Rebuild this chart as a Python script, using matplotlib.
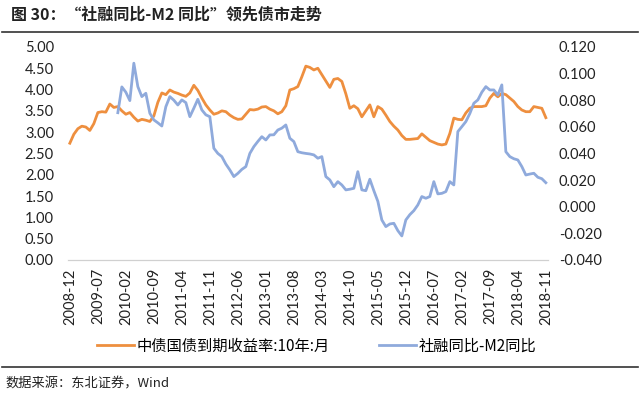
import matplotlib
matplotlib.use("Agg")
import matplotlib.pyplot as plt
import numpy as np
import pandas as pd

plt.rcParams["font.family"] = ["Noto Sans CJK SC", "DejaVu Sans"]

# monthly, 2008-12 .. 2018-11
months = pd.period_range("2008-12", "2018-11", freq="M").strftime("%Y-%m").tolist()

# 中债国债到期收益率:10年 (left axis, %)
bond_yield = [
    2.74, 2.95, 3.08, 3.14, 3.12, 3.04, 3.20, 3.46, 3.48, 3.47, 3.66, 3.58,
    3.60, 3.50, 3.42, 3.46, 3.35, 3.26, 3.30, 3.28, 3.25, 3.38, 3.70, 3.92,
    3.88, 3.99, 3.94, 3.91, 3.87, 3.84, 3.92, 4.10, 3.98, 3.80, 3.64, 3.52,
    3.42, 3.45, 3.50, 3.48, 3.40, 3.34, 3.30, 3.31, 3.42, 3.53, 3.52, 3.54,
    3.59, 3.60, 3.54, 3.50, 3.43, 3.48, 3.62, 3.99, 4.02, 4.07, 4.30, 4.55,
    4.52, 4.46, 4.50, 4.35, 4.20, 4.05, 4.24, 4.26, 4.19, 3.90, 3.56, 3.62,
    3.55, 3.36, 3.50, 3.64, 3.36, 3.60, 3.54, 3.40, 3.25, 3.14, 3.05, 2.92,
    2.83, 2.83, 2.84, 2.85, 2.96, 2.88, 2.80, 2.76, 2.72, 2.70, 2.72, 2.97,
    3.33, 3.30, 3.29, 3.45, 3.56, 3.60, 3.60, 3.60, 3.62, 3.80, 3.91, 3.83,
    3.91, 3.88, 3.80, 3.72, 3.60, 3.52, 3.48, 3.48, 3.60, 3.58, 3.56, 3.34,
]

# 社融同比-M2同比 (right axis), starts 2009-12
tsf_m2 = [np.nan] * 12 + [
    0.0706, 0.0900, 0.0860, 0.0797, 0.1078, 0.0902, 0.0827, 0.0852, 0.0702, 0.0652, 0.0630, 0.0606,
    0.0751, 0.0827, 0.0800, 0.0764, 0.0802, 0.0782, 0.0676, 0.0740, 0.0807, 0.0727, 0.0690, 0.0676,
    0.0439, 0.0400, 0.0376, 0.0320, 0.0276, 0.0226, 0.0250, 0.0280, 0.0301, 0.0400, 0.0451, 0.0490,
    0.0526, 0.0501, 0.0539, 0.0540, 0.0576, 0.0590, 0.0614, 0.0514, 0.0489, 0.0413, 0.0405, 0.0400,
    0.0396, 0.0389, 0.0364, 0.0376, 0.0226, 0.0201, 0.0150, 0.0188, 0.0163, 0.0126, 0.0131, 0.0138,
    0.0263, 0.0126, 0.0120, 0.0206, 0.0120, 0.0040, -0.0100, -0.0150, -0.0130, -0.0125, -0.0180, -0.0220,
    -0.0100, -0.0060, -0.0030, 0.0013, 0.0076, 0.0063, 0.0076, 0.0188, 0.0096, 0.0100, 0.0113, 0.0188,
    0.0163, 0.0564, 0.0601, 0.0639, 0.0700, 0.0777, 0.0802, 0.0860, 0.0902, 0.0877, 0.0877, 0.0839,
    0.0915, 0.0413, 0.0376, 0.0360, 0.0351, 0.0301, 0.0238, 0.0245, 0.0251, 0.0221, 0.0210, 0.0180,
]

yield_label = "中债国债到期收益率:10年:月"
spread_label = "社融同比-M2同比"

fig = plt.figure(figsize=(6.4, 3.98), dpi=100)
ax = fig.add_axes([0.106, 0.347, 0.750, 0.535])
ax2 = ax.twinx()

x = np.arange(len(months))
l1, = ax.plot(x, bond_yield, color="#EE8F3F", lw=2.0, label=yield_label)
l2, = ax2.plot(x, tsf_m2, color="#8FAADC", lw=2.0, label=spread_label)

ax.set_xlim(-0.5, len(months) - 0.5)
ax.set_ylim(0, 5)
ax.set_yticks(np.arange(0, 5.01, 0.5))
ax.set_yticklabels([f"{v:.2f}" for v in np.arange(0, 5.01, 0.5)], family="Lato", fontsize=10.5)
ax2.set_ylim(-0.04, 0.12)
ax2.set_yticks(np.arange(-0.04, 0.1201, 0.02))
ax2.set_yticklabels([f"{v:.3f}" for v in np.arange(-0.04, 0.1201, 0.02)], family="Lato", fontsize=10.5)

ticks = x[::7]
ax.set_xticks(ticks)
ax.set_xticklabels([months[i] for i in ticks], rotation=90, family="Lato", fontsize=10.5)

for a in (ax, ax2):
    for s in ("top", "left", "right"):
        a.spines[s].set_visible(False)
    a.spines["bottom"].set_color("#D0D0D0")
    a.tick_params(length=0, pad=6, colors="#222222")
ax.tick_params(axis="y", pad=10)
ax2.tick_params(axis="y", pad=8)

fig.legend(handles=[l1, l2], loc="center", bbox_to_anchor=(0.495, 0.13), ncol=2,
           frameon=False, fontsize=11, handlelength=2.4, handletextpad=0.2,
           columnspacing=3.2)

# title, rules and source
fig.text(0.017, 0.962, "图 30：“社融同比-M2 同比”领先债市走势", fontsize=11.5,
         fontweight="bold", va="center", ha="left", color="#222222")
fig.add_artist(plt.Line2D([0.003, 0.997], [0.920, 0.920], color="#333333", lw=1.2))
fig.add_artist(plt.Line2D([0.003, 0.997], [0.078, 0.078], color="#333333", lw=1.2))
fig.text(0.008, 0.035, "数据来源：东北证券，Wind", fontsize=9.5, va="center",
         ha="left", color="#222222")

fig.savefig("out.png", dpi=100)
